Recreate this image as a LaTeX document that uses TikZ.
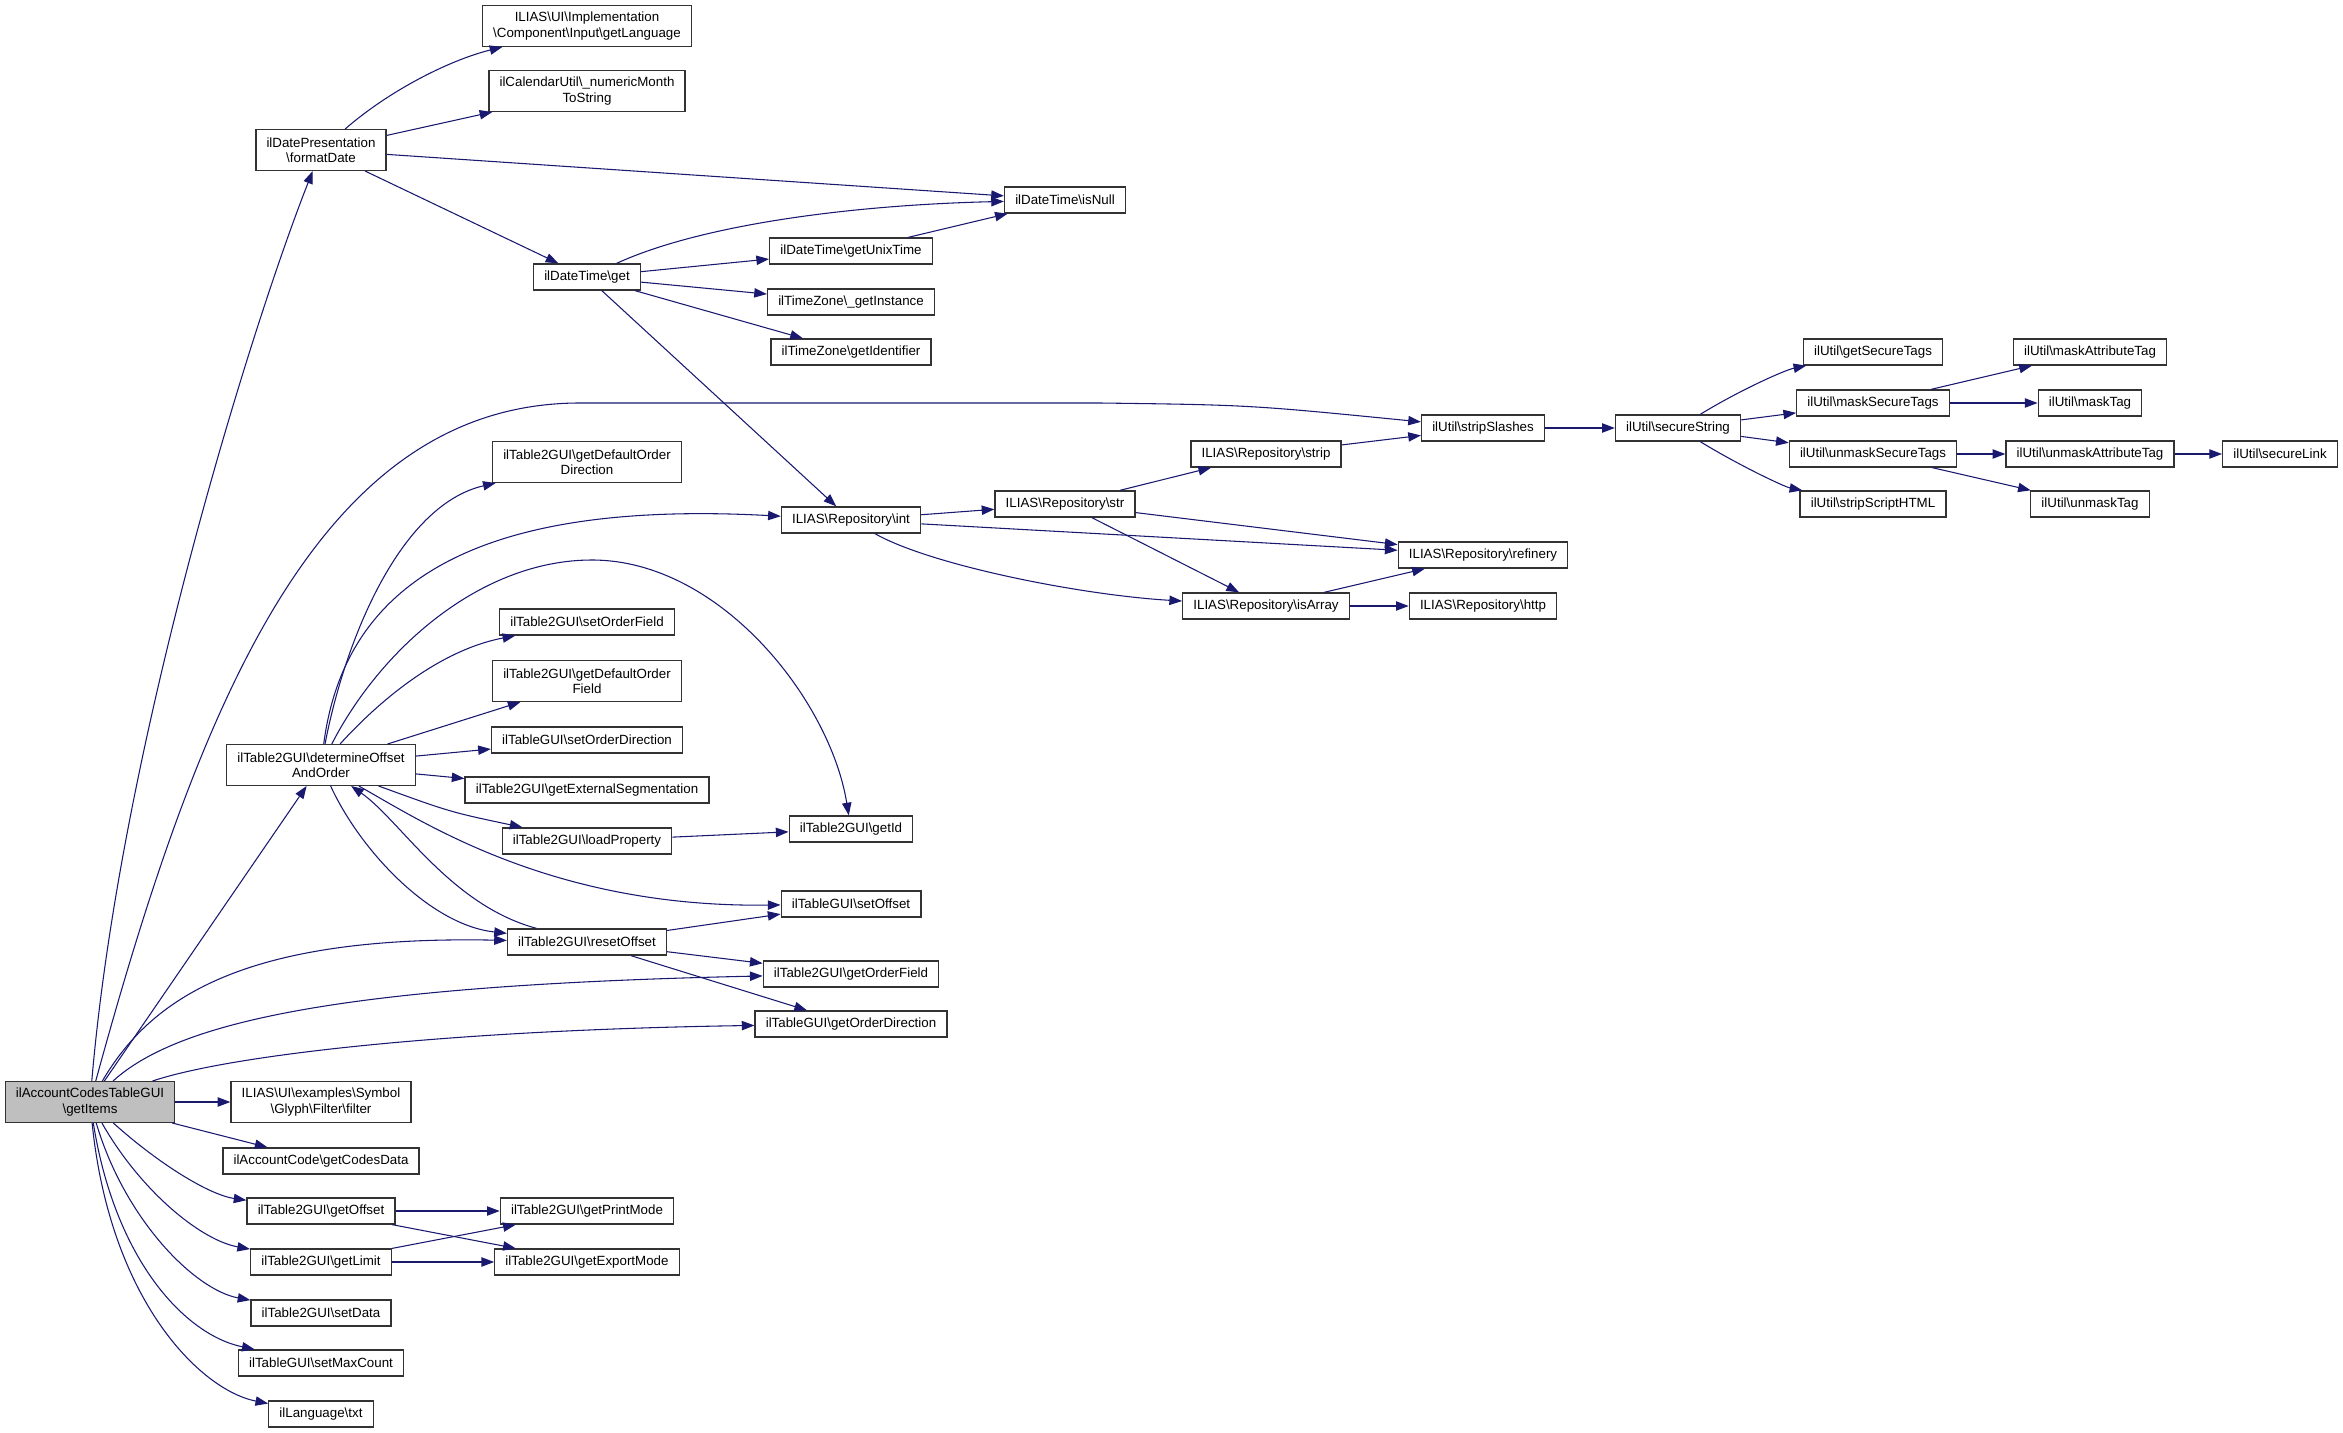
\documentclass[tikz,border=0pt]{standalone}
\usepackage{fontspec}
\setmainfont{Liberation Sans}
\usetikzlibrary{arrows.meta}
\newcommand{\bsl}{\textbackslash}
\definecolor{edgeblue}{HTML}{191970}
\definecolor{curgray}{HTML}{BFBFBF}

\begin{document}
\begin{tikzpicture}[x=.75pt,y=-.75pt,
		fbox/.style={draw=black!80,line width=1pt,fill=white,inner xsep=8pt,inner ysep=2pt,minimum height=19.5pt,align=center,font=\fontsize{10}{11.5}\selectfont},
		tbox/.style={fbox,minimum height=30.5pt},
		call/.style={draw=edgeblue,line width=.8pt,-{Triangle[length=9.5pt,width=7pt]}}]
		\useasboundingbox (0,0) rectangle (2343,1433);
		\node[tbox,fill=curgray] (G) at (90,1102) {ilAccountCodesTableGUI\\\bsl getItems};
		\node[tbox] (FD) at (321,150) {ilDatePresentation\\\bsl formatDate};
		\node[tbox] (DO) at (321,765) {ilTable2GUI\bsl determineOffset\\AndOrder};
		\node[tbox] (FI) at (321,1102) {ILIAS\bsl UI\bsl examples\bsl Symbol\\\bsl Glyph\bsl Filter\bsl filter};
		\node[fbox] (CD) at (321,1161) {ilAccountCode\bsl getCodesData};
		\node[fbox] (GO) at (321,1211) {ilTable2GUI\bsl getOffset};
		\node[fbox] (GLi) at (321,1262) {ilTable2GUI\bsl getLimit};
		\node[fbox] (SD) at (321,1313) {ilTable2GUI\bsl setData};
		\node[fbox] (SM) at (321,1363) {ilTableGUI\bsl setMaxCount};
		\node[fbox] (TX) at (321,1414) {ilLanguage\bsl txt};
		\node[tbox] (GL) at (587,26) {ILIAS\bsl UI\bsl Implementation\\\bsl Component\bsl Input\bsl getLanguage};
		\node[tbox] (NM) at (587,91) {ilCalendarUtil\bsl\_numericMonth\\ToString};
		\node[fbox] (DT) at (587,277) {ilDateTime\bsl get};
		\node[tbox] (DOD) at (587,462) {ilTable2GUI\bsl getDefaultOrder\\Direction};
		\node[fbox] (SOF) at (587,622) {ilTable2GUI\bsl setOrderField};
		\node[tbox] (DOF) at (587,681) {ilTable2GUI\bsl getDefaultOrder\\Field};
		\node[fbox] (SOD) at (587,740) {ilTableGUI\bsl setOrderDirection};
		\node[fbox] (GES) at (587,790) {ilTable2GUI\bsl getExternalSegmentation};
		\node[fbox] (LP) at (587,841) {ilTable2GUI\bsl loadProperty};
		\node[fbox] (RO) at (587,942) {ilTable2GUI\bsl resetOffset};
		\node[fbox] (PM) at (587,1211) {ilTable2GUI\bsl getPrintMode};
		\node[fbox] (EM) at (587,1262) {ilTable2GUI\bsl getExportMode};
		\node[fbox] (UT) at (851,251) {ilDateTime\bsl getUnixTime};
		\node[fbox] (TI) at (851,302) {ilTimeZone\bsl\_getInstance};
		\node[fbox] (TZ) at (851,352) {ilTimeZone\bsl getIdentifier};
		\node[fbox] (RI) at (851,520) {ILIAS\bsl Repository\bsl int};
		\node[fbox] (GI) at (851,829) {ilTable2GUI\bsl getId};
		\node[fbox] (SO) at (851,904) {ilTableGUI\bsl setOffset};
		\node[fbox] (GOF) at (851,974) {ilTable2GUI\bsl getOrderField};
		\node[fbox] (GOD) at (851,1024) {ilTableGUI\bsl getOrderDirection};
		\node[fbox] (IN) at (1065,200) {ilDateTime\bsl isNull};
		\node[fbox] (RS) at (1065,504) {ILIAS\bsl Repository\bsl str};
		\node[fbox] (RP) at (1266,454) {ILIAS\bsl Repository\bsl strip};
		\node[fbox] (RA) at (1266,606) {ILIAS\bsl Repository\bsl isArray};
		\node[fbox] (SS) at (1483,428) {ilUtil\bsl stripSlashes};
		\node[fbox] (RF) at (1483,555) {ILIAS\bsl Repository\bsl refinery};
		\node[fbox] (RH) at (1483,606) {ILIAS\bsl Repository\bsl http};
		\node[fbox] (SC) at (1678,428) {ilUtil\bsl secureString};
		\node[fbox] (GST) at (1873,352) {ilUtil\bsl getSecureTags};
		\node[fbox] (MST) at (1873,403) {ilUtil\bsl maskSecureTags};
		\node[fbox] (UST) at (1873,454) {ilUtil\bsl unmaskSecureTags};
		\node[fbox] (SSH) at (1873,504) {ilUtil\bsl stripScriptHTML};
		\node[fbox] (MAT) at (2090,352) {ilUtil\bsl maskAttributeTag};
		\node[fbox] (MT) at (2090,403) {ilUtil\bsl maskTag};
		\node[fbox] (UAT) at (2090,454) {ilUtil\bsl unmaskAttributeTag};
		\node[fbox] (UMT) at (2090,504) {ilUtil\bsl unmaskTag};
		\node[fbox] (SL) at (2280,454) {ilUtil\bsl secureLink};

		\draw[call] (G) .. controls (120,750) and (250,330) .. (FD);
		\draw[call] (G) .. controls (200,700) and (320,403) .. (580,403) -- (1100,403) .. controls (1250,405) .. (SS);
		\draw[call] (G) -- (DO);
		\draw[call] (G) .. controls (150,1000) and (240,935) .. (RO);
		\draw[call] (G) .. controls (180,1020) and (350,985) .. (GOF);
		\draw[call] (G) .. controls (230,1055) and (450,1030) .. (GOD);
		\draw[call] (G) -- (FI);
		\draw[call] (G) -- (CD);
		\draw[call] (G) .. controls (160,1165) and (210,1195) .. (GO);
		\draw[call] (G) .. controls (140,1190) and (200,1240) .. (GLi);
		\draw[call] (G) .. controls (125,1220) and (195,1290) .. (SD);
		\draw[call] (G) .. controls (115,1260) and (185,1335) .. (SM);
		\draw[call] (G) .. controls (110,1300) and (200,1390) .. (TX);

		\draw[call] (FD) .. controls (390,90) and (450,60) .. (GL);
		\draw[call] (FD) -- (NM);
		\draw[call] (FD) -- (IN);
		\draw[call] (FD) -- (DT);
		\draw[call] (DT) .. controls (700,225) and (850,205) .. (IN);
		\draw[call] (DT) -- (UT);
		\draw[call] (DT) -- (TI);
		\draw[call] (DT) -- (TZ);
		\draw[call] (DT) -- (RI);
		\draw[call] (UT) -- (IN);

		\draw[call] (RI) -- (RS);
		\draw[call] (RI) -- (RF);
		\draw[call] (RI) .. controls (930,565) and (1080,595) .. (RA);
		\draw[call] (RS) -- (RP);
		\draw[call] (RS) -- (RF);
		\draw[call] (RS) -- (RA);
		\draw[call] (RA) -- (RF);
		\draw[call] (RA) -- (RH);
		\draw[call] (RP) -- (SS);
		\draw[call] (SS) -- (SC);

		\draw[call] (SC) .. controls (1740,390) and (1785,370) .. (GST);
		\draw[call] (SC) -- (MST);
		\draw[call] (SC) -- (UST);
		\draw[call] (SC) .. controls (1740,466) and (1785,487) .. (SSH);
		\draw[call] (MST) -- (MAT);
		\draw[call] (MST) -- (MT);
		\draw[call] (UST) -- (UAT);
		\draw[call] (UST) -- (UMT);
		\draw[call] (UAT) -- (SL);

		\draw[call] (DO) .. controls (345,640) and (400,505) .. (DOD);
		\draw[call] (DO) .. controls (345,580) and (480,500) .. (RI);
		\draw[call] (DO) .. controls (380,650) and (480,560) .. (592,560) .. controls (720,560) and (830,700) .. (GI);
		\draw[call] (DO) .. controls (380,700) and (440,650) .. (SOF);
		\draw[call] (DO) -- (DOF);
		\draw[call] (DO) -- (SOD);
		\draw[call] (DO) -- (GES);
		\draw[call] (DO) .. controls (450,812) .. (LP);
		\draw[call] (DO) .. controls (420,820) and (550,908) .. (SO);
		\draw[call] (DO) .. controls (360,850) and (430,925) .. (RO);
		\draw[call] (RO) .. controls (450,905) and (400,820) .. (DO);
		\draw[call] (LP) -- (GI);
		\draw[call] (RO) -- (SO);
		\draw[call] (RO) -- (GOF);
		\draw[call] (RO) -- (GOD);

		\draw[call] (GO) -- (PM);
		\draw[call] (GO) -- (EM);
		\draw[call] (GLi) -- (PM);
		\draw[call] (GLi) -- (EM);
	\end{tikzpicture}
\end{document}
